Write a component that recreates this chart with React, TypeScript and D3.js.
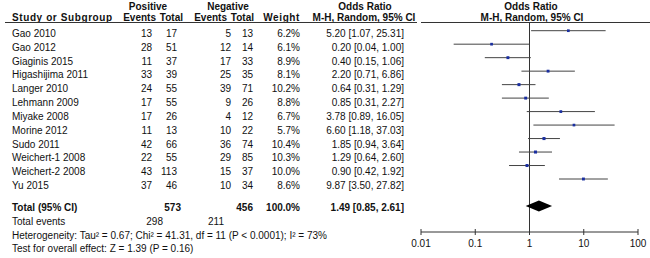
import React from "react";
import * as d3 from "d3";

const studies = ["Gao 2010","Gao 2012","Giaginis 2015","Higashijima 2011","Langer 2010","Lehmann 2009","Miyake 2008","Morine 2012","Sudo 2011","Weichert-1 2008","Weichert-2 2008","Yu 2015"];
const posEvents = [13,28,11,33,24,17,17,11,42,22,43,37];
const posTotal = [17,51,37,39,55,55,26,13,66,55,113,46];
const negEvents = [5,12,17,25,39,9,4,10,36,29,15,10];
const negTotal = [13,14,33,35,71,26,12,22,74,85,37,34];
const weights = [6.2,6.1,8.9,8.1,10.2,8.8,6.7,5.7,10.4,10.3,10.0,8.6];
const oddsRatio = [5.20,0.20,0.40,2.20,0.64,0.85,3.78,6.60,1.85,1.29,0.90,9.87];
const ciLow = [1.07,0.04,0.15,0.71,0.31,0.31,0.89,1.18,0.94,0.64,0.42,3.50];
const ciHigh = [25.31,1.00,1.06,6.86,1.29,2.27,16.05,37.03,3.64,2.60,1.92,27.82];
const total = { pos: 573, neg: 456, weight: "100.0%", or: 1.49, lo: 0.85, hi: 2.61, posEv: 298, negEv: 211 };
const axisTicks = [0.01, 0.1, 1, 10, 100];
const heterogeneity = "Heterogeneity: Tau² = 0.67; Chi² = 41.31, df = 11 (P < 0.0001); I² = 73%";
const overall = "Test for overall effect: Z = 1.39 (P = 0.16)";

const f2 = d3.format(".2f");

export default function App() {
  const W = 650, H = 258;
  const x = d3.scaleLog().domain([0.01, 100]).range([421, 638]);
  const rowText = d3.scaleLinear().domain([0, 11]).range([37, 189]);
  const rowLine = d3.scaleLinear().domain([0, 11]).range([30.7, 179]);
  const font = "'Liberation Sans', Arial, sans-serif";
  const col = { study: 12, posEv: 152, posTot: 177, negEv: 231, negTot: 253, weight: 300, or: 404 };
  const txt = "#111";
  const axisY = 232;
  const headY = 22.5;
  const totY = 206;
  const dh = 5.5;
  const ls = 0.6;

  return (
    <svg width={W} height={H} style={{ position: "fixed", left: 0, top: 0, background: "#fff" }} fontFamily={font} fontSize={10} fill={txt}>
      <rect x={0} y={0} width={W} height={H} fill="#fff" />
      {/* headers */}
      <g fontWeight="bold">
        <text x={148} y={9.6} textAnchor="middle">Positive</text>
        <text x={228} y={9.6} textAnchor="middle">Negative</text>
        <text x={365} y={9.6} textAnchor="middle">Odds Ratio</text>
        <text x={531} y={9.6} textAnchor="middle">Odds Ratio</text>
        <text x={col.study} y={21.3} letterSpacing={ls}>Study or Subgroup</text>
        <text x={156} y={21.3} textAnchor="end">Events</text>
        <text x={183} y={21.3} textAnchor="end">Total</text>
        <text x={227} y={21.3} textAnchor="end">Events</text>
        <text x={254} y={21.3} textAnchor="end">Total</text>
        <text x={300} y={21.3} textAnchor="end" letterSpacing={ls}>Weight</text>
        <text x={364} y={21.3} textAnchor="middle">M-H, Random, 95% CI</text>
        <text x={532} y={21.3} textAnchor="middle">M-H, Random, 95% CI</text>
      </g>
      <line x1={5} x2={417} y1={headY} y2={headY} stroke="#333" strokeWidth={1} />
      <line x1={421} x2={650} y1={headY} y2={headY} stroke="#333" strokeWidth={1} />

      {/* rows */}
      {studies.map((s, i) => (
        <g key={s}>
          <text x={col.study} y={rowText(i)}>{s}</text>
          <text x={col.posEv} y={rowText(i)} textAnchor="end">{posEvents[i]}</text>
          <text x={col.posTot} y={rowText(i)} textAnchor="end">{posTotal[i]}</text>
          <text x={col.negEv} y={rowText(i)} textAnchor="end">{negEvents[i]}</text>
          <text x={col.negTot} y={rowText(i)} textAnchor="end">{negTotal[i]}</text>
          <text x={col.weight} y={rowText(i)} textAnchor="end">{weights[i].toFixed(1)}%</text>
          <text x={col.or} y={rowText(i)} textAnchor="end">{`${f2(oddsRatio[i])} [${f2(ciLow[i])}, ${f2(ciHigh[i])}]`}</text>
        </g>
      ))}

      {/* totals */}
      <g fontWeight="bold">
        <text x={col.study} y={211}>Total (95% CI)</text>
        <text x={col.posTot + 4} y={211} textAnchor="end">{total.pos}</text>
        <text x={col.negTot} y={211} textAnchor="end">{total.neg}</text>
        <text x={col.weight} y={211} textAnchor="end">{total.weight}</text>
        <text x={col.or} y={211} textAnchor="end">{`${f2(total.or)} [${f2(total.lo)}, ${f2(total.hi)}]`}</text>
      </g>
      <text x={col.study} y={224.6}>Total events</text>
      <text x={163} y={224.6} textAnchor="end">{total.posEv}</text>
      <text x={224} y={224.6} textAnchor="end">{total.negEv}</text>
      <text x={col.study} y={238.5}>{heterogeneity}</text>
      <text x={col.study} y={252}>{overall}</text>

      {/* forest */}
      <line x1={x(1)} x2={x(1)} y1={headY} y2={axisY} stroke="#333" strokeWidth={1} />
      {studies.map((s, i) => {
        const sz = 2.2 + weights[i] * 0.08;
        return (
          <g key={"f" + s}>
            <line x1={x(ciLow[i])} x2={x(ciHigh[i])} y1={rowLine(i)} y2={rowLine(i)} stroke="#444" strokeWidth={1} />
            <rect x={x(oddsRatio[i]) - sz / 2} y={rowLine(i) - sz / 2} width={sz} height={sz} fill="#1a2fa0" />
          </g>
        );
      })}
      <path d={`M${x(total.lo)},${totY} L${x(total.or)},${totY - dh} L${x(total.hi)},${totY} L${x(total.or)},${totY + dh} Z`} fill="#000" />

      {/* axis */}
      <line x1={x(0.01)} x2={x(100)} y1={axisY} y2={axisY} stroke="#333" strokeWidth={1} />
      {axisTicks.map(t => (
        <g key={t}>
          <line x1={x(t)} x2={x(t)} y1={axisY - 3} y2={axisY + 3} stroke="#333" strokeWidth={1} />
          <text x={x(t)} y={246.5} textAnchor="middle">{String(t)}</text>
        </g>
      ))}
    </svg>
  );
}
